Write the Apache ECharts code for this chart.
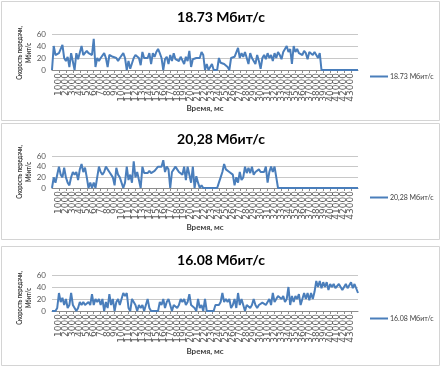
<!DOCTYPE html>
<html>
<head>
<meta charset="utf-8">
<script src="https://cdn.jsdelivr.net/npm/echarts@6/dist/echarts.min.js"></script>
<style>
html,body{margin:0;padding:0;background:#fff;}
#c{width:442px;height:367px;}
</style>
</head>
<body>
<div id="c"></div>
<script>
// Time categories (ms), one point every 250 ms from 0 to 44000
var timeCategories = [];
for (var t = 0; t <= 44000; t += 250) timeCategories.push(String(t));

var seriesNames = ['18.73 Мбит/с', '20,28 Мбит/с', '16.08 Мбит/с'];
var yTicks = [0, 20, 40, 60];

// Transfer rate, Мбит/с (4 points per second)
var rate1873 = [
  0,40,25,28,   28,30,42,20,   15,22,5,28,    30,0,28,18,
  20,40,25,28,  32,28,30,25,   52,5,20,15,    20,22,28,20,
  5,25,28,22,   25,20,15,20,   18,28,20,0,    15,2,0,20,
  25,28,20,8,   30,20,22,20,   28,10,28,22,   30,35,28,20,
  0,18,22,10,   25,15,28,18,   20,15,22,20,   10,22,15,32,
  5,18,15,20,   18,20,30,25,   0,10,0,5,      10,0,0,0,
  20,12,10,10,  10,5,0,20,     20,22,20,37,   20,28,22,30,
  20,10,28,20,  22,10,25,15,   2,20,25,18,    28,20,25,15,
  28,20,30,25,  18,30,28,40,   30,35,10,40,   30,35,28,30,
  25,32,28,18,  30,32,25,30,   28,20,28,0,    0,0,0,0,
  0,0,0,0,      0,0,0,0,       0,0,0,0,       0,0,0,0,
  0
];
var rate2028 = [
  0,20,10,25,   40,25,20,38,   20,10,5,20,    30,25,30,15,
  35,45,30,38,  20,0,10,0,     10,0,20,40,    30,25,30,40,
  35,30,25,20,  5,38,25,20,    20,0,10,40,    15,25,10,50,
  20,30,15,0,   40,28,30,28,   32,28,30,32,   30,40,38,40,
  52,30,40,35,  0,30,35,40,    35,30,30,25,   40,15,40,40,
  10,40,0,22,   10,0,5,0,      0,0,0,0,       0,0,0,0,
  10,20,30,45,  35,38,30,30,   25,5,20,10,    30,15,20,40,
  28,38,28,40,  25,30,30,35,   30,32,30,40,   10,30,40,30,
  40,20,0,0,    0,0,0,0,       0,0,0,0,       0,0,0,0,
  0,0,0,0,      0,0,0,0,       0,0,0,0,       0,0,0,0,
  0,0,0,0,      0,0,0,0,       0,0,0,0,       0,0,0,0,
  0
];
var rate1608 = [
  0,0,0,5,      30,15,22,10,   20,5,10,30,    10,5,0,5,
  15,10,15,10,  12,15,10,28,   10,20,15,20,   10,20,0,15,
  5,28,10,20,   0,15,20,10,    20,30,25,30,   5,0,20,22,
  10,0,10,5,    10,0,10,20,    5,0,0,0,       0,0,15,10,
  20,5,15,20,   10,0,10,10,    5,10,20,15,    20,10,15,28,
  10,10,5,0,    20,5,10,0,     20,0,0,0,      0,0,10,10,
  10,15,30,15,  20,15,20,5,    10,20,5,30,    10,20,10,0,
  10,8,5,10,    20,10,5,10,    12,14,15,10,   15,20,10,30,
  15,20,25,28,  20,25,15,20,   40,10,25,15,   25,20,28,10,
  20,30,20,30,  18,30,20,32,   50,40,50,38,   48,40,48,35,
  45,40,45,38,  40,45,40,35,   40,45,38,40,   48,38,45,42,
  30
];
var allRates = [rate1873, rate2028, rate1608];

// layout per panel
var panels = [
  {box:[1.5,1.5,438,119],   titleTop:5,   plotTop:34,  plotBottom:70,  xName:108, yName:53,  legend:74},
  {box:[1.5,123.5,438,116], titleTop:127, plotTop:156, plotBottom:188, xName:227, yName:172, legend:195},
  {box:[1.5,246.5,438,119], titleTop:248, plotTop:275, plotBottom:311, xName:351, yName:298, legend:316}
];

var LINE = '#4A7EBB';
var option = {
  animation: false,
  backgroundColor: '#fff',
  title: [], legend: [], grid: [], xAxis: [], yAxis: [], series: [], graphic: []
};

panels.forEach(function (p, i) {
  option.graphic.push({
    type: 'rect', silent: true, z: -1,
    shape: {x: p.box[0], y: p.box[1], width: p.box[2], height: p.box[3]},
    style: {fill: null, stroke: '#D4D4D4', lineWidth: 1}
  });
  option.title.push({
    text: seriesNames[i], left: 'center', top: p.titleTop,
    textStyle: {fontFamily: 'Lato', fontWeight: 'bold', fontSize: 14, color: '#000'}
  });
  option.legend.push({
    data: [seriesNames[i]], left: 365, top: p.legend - 6, orient: 'vertical',
    icon: 'rect', itemWidth: 18, itemHeight: 2, itemGap: 0,
    textStyle: {fontFamily: 'Lato', fontSize: 7, color: '#404040', padding: [0,0,0,-3]}
  });
  option.grid.push({left: 52, right: 442 - 358, top: p.plotTop, height: p.plotBottom - p.plotTop});
  option.xAxis.push({
    type: 'category', gridIndex: i, data: timeCategories, boundaryGap: false,
    axisLine: {lineStyle: {color: '#8C8C8C', width: 1}},
    axisTick: {show: true, interval: 3, length: 3, lineStyle: {color: '#8C8C8C'}},
    axisLabel: {interval: 3, rotate: 90, fontSize: 9, margin: 3, color: '#595959',
                fontFamily: 'DejaVu Sans', hideOverlap: false},
    splitLine: {show: false}
  });
  option.yAxis.push({
    type: 'value', gridIndex: i, min: yTicks[0], max: yTicks[yTicks.length - 1], interval: 20,
    axisLine: {show: false}, axisTick: {show: false},
    axisLabel: {fontSize: 8, color: '#595959', margin: 6, fontFamily: 'Lato'},
    splitLine: {lineStyle: {color: '#C8C8C8', width: 1}}
  });
  option.series.push({
    name: seriesNames[i], type: 'line', xAxisIndex: i, yAxisIndex: i,
    data: allRates[i], symbol: 'none', showSymbol: false,
    lineStyle: {color: LINE, width: 2}, itemStyle: {color: LINE}
  });
  option.graphic.push({
    type: 'text', silent: true, x: 205, y: p.xName,
    style: {text: 'Время, мс', fontFamily: 'Lato', fontWeight: 'bold', fontSize: 8,
            fill: '#404040', align: 'center', verticalAlign: 'middle'}
  });
  option.graphic.push({
    type: 'text', silent: true, x: 24, y: p.yName, rotation: Math.PI / 2, scaleX: 0.72,
    style: {text: 'Скорость передачи,\nМбит/с', fontFamily: 'Lato', fontWeight: 'bold', fontSize: 8,
            lineHeight: 9, fill: '#404040', align: 'center', verticalAlign: 'middle'}
  });
});

var chart = echarts.init(document.getElementById('c'), null, {renderer: 'canvas'});
chart.setOption(option);
</script>
</body>
</html>
